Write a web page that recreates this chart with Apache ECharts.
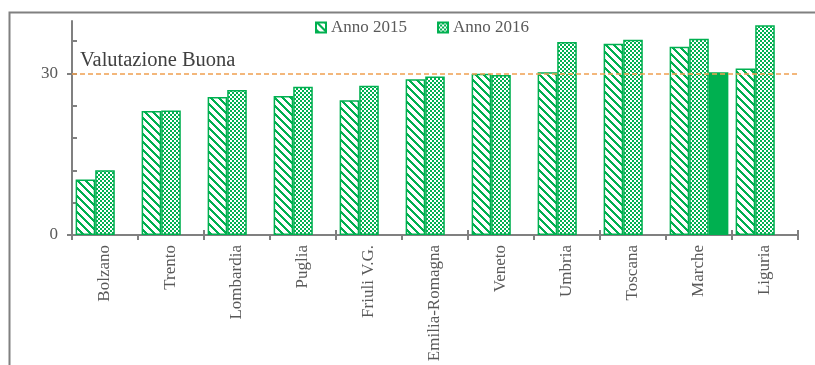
<!DOCTYPE html>
<html>
<head>
<meta charset="utf-8">
<script src="https://cdn.jsdelivr.net/npm/echarts@6/dist/echarts.min.js"></script>
<style>
html,body{margin:0;padding:0;background:#fff;}
#chart{width:815px;height:365px;}
</style>
</head>
<body>
<div id="chart"></div>
<script>
const categories = ['Bolzano','Trento','Lombardia','Puglia','Friuli V.G.','Emilia-Romagna','Veneto','Umbria','Toscana','Marche','Liguria'];
const anno2015 = [10.3, 23.0, 25.6, 25.8, 25.0, 28.9, 29.9, 30.2, 35.5, 34.9, 30.9];
const anno2016 = [12.0, 23.1, 26.9, 27.5, 27.7, 29.4, 29.7, 35.8, 36.2, 36.4, 38.9];
const marcheEvidenza = [null, null, null, null, null, null, null, null, null, 30.2, null];
const seriesNames = ['Anno 2015', 'Anno 2016', 'Marche'];
const yLabelTicks = [0, 30];
const yMinorTicks = [0, 6, 12, 18, 24, 30, 36];
const yMax = 39.7;
const referenceValue = 30;
const referenceLabel = 'Valutazione Buona';

const GREEN = '#00B050';
const FONT = '"Liberation Serif", "Times New Roman", serif';

function makePattern(kind) {
  const c = document.createElement('canvas');
  const n = kind === 'stripe' ? 8 : 4;
  c.width = n; c.height = n;
  const ctx = c.getContext('2d');
  ctx.fillStyle = '#fff';
  ctx.fillRect(0, 0, n, n);
  ctx.fillStyle = GREEN;
  for (let y = 0; y < n; y++) {
    for (let x = 0; x < n; x++) {
      let on;
      if (kind === 'stripe') on = ((x - y + 16) % 8) < 3;
      else on = ((Math.floor(x / 2) + Math.floor(y / 2)) % 2) === 0;
      if (on) ctx.fillRect(x, y, 1, 1);
    }
  }
  return { image: c, repeat: 'repeat' };
}

const chart = echarts.init(document.getElementById('chart'), null, { renderer: 'canvas' });
const axisColor = '#808080';
const textColor = '#595959';

chart.setOption({
  animation: false,
  textStyle: { fontFamily: FONT },
  graphic: [{
    type: 'rect', left: 7, top: 10,
    shape: { width: 900, height: 500 },
    style: { fill: 'none', stroke: axisColor, lineWidth: 2 },
    silent: true
  }],
  legend: {
    data: [seriesNames[0], seriesNames[1]],
    left: 310, top: 14,
    itemWidth: 10, itemHeight: 10, itemGap: 30,
    icon: 'rect',
    textStyle: { fontFamily: FONT, fontSize: 17, color: textColor }
  },
  grid: { left: 72, right: 17, top: 21, bottom: 130 },
  xAxis: [{
    type: 'category', data: categories,
    axisLine: { lineStyle: { color: axisColor, width: 2 } },
    axisTick: { show: true, length: 5, lineStyle: { color: axisColor, width: 2 } },
    axisLabel: { rotate: 90, interval: 0, margin: 10, fontFamily: FONT, fontSize: 17, color: textColor }
  }, {
    type: 'category', data: categories, position: 'bottom',
    axisLine: { show: false },
    axisTick: { show: true, inside: true, length: 5, lineStyle: { color: axisColor, width: 2 } },
    axisLabel: { show: false }
  }],
  yAxis: [{
    type: 'value', min: 0, max: yMax,
    axisLine: { show: true, lineStyle: { color: axisColor, width: 2 } },
    axisTick: { show: true, length: 5, customValues: yLabelTicks, lineStyle: { color: axisColor, width: 2 } },
    axisLabel: { customValues: yLabelTicks, margin: 14, fontFamily: FONT, fontSize: 17, color: textColor },
    splitLine: { show: false }
  }, {
    type: 'value', min: 0, max: yMax, position: 'left',
    axisLine: { show: false },
    axisTick: { show: true, inside: true, length: 5, customValues: yMinorTicks, lineStyle: { color: axisColor, width: 2 } },
    axisLabel: { show: false },
    splitLine: { show: false }
  }],
  series: [{
    name: seriesNames[0], type: 'bar', data: anno2015,
    barGap: '0%', barCategoryGap: '11%',
    itemStyle: { color: makePattern('stripe'), borderColor: GREEN, borderWidth: 1.5 },
    markLine: {
      silent: true, symbol: 'none',
      lineStyle: { color: '#F0A050', type: [5, 3], width: 1.5 },
      label: {
        show: true, position: 'insideStartTop', formatter: referenceLabel,
        fontFamily: FONT, fontSize: 20.5, color: '#404040', distance: [8, 2]
      },
      data: [{ yAxis: referenceValue }]
    }
  }, {
    name: seriesNames[1], type: 'bar', data: anno2016,
    barGap: '0%', barCategoryGap: '11%',
    itemStyle: { color: makePattern('check'), borderColor: GREEN, borderWidth: 1.5 }
  }, {
    name: seriesNames[2], type: 'bar', data: marcheEvidenza,
    barGap: '0%', barCategoryGap: '11%',
    itemStyle: { color: GREEN }
  }]
});
</script>
</body>
</html>
